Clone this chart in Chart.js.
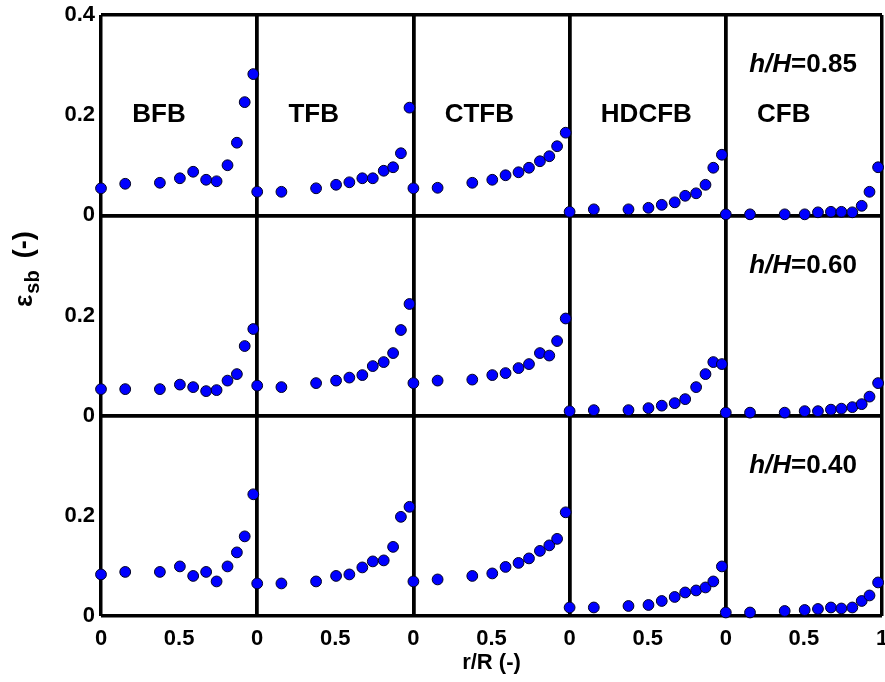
<!DOCTYPE html>
<html>
<head>
<meta charset="utf-8">
<script src="https://cdn.jsdelivr.net/npm/chart.js@4.4.1/dist/chart.umd.min.js"></script>
<style>
  html, body { margin: 0; padding: 0; background: #fff; }
</style>
</head>
<body>
<canvas id="voidage" width="885" height="682"></canvas>
<script>
// radial positions r/R (same in every panel)
const rr = [0, 0.155, 0.377, 0.505, 0.59, 0.673, 0.74, 0.81, 0.87, 0.92, 0.975];

const beds = ['BFB', 'TFB', 'CTFB', 'HDCFB', 'CFB'];
const heights = ['0.85', '0.60', '0.40'];

// h/H = 0.85
const bfb85   = [0.054, 0.063, 0.065, 0.074, 0.087, 0.071, 0.068, 0.100, 0.145, 0.226, 0.282];
const tfb85   = [0.047, 0.047, 0.054, 0.061, 0.066, 0.074, 0.074, 0.089, 0.096, 0.124, 0.215];
const ctfb85  = [0.054, 0.055, 0.065, 0.071, 0.080, 0.086, 0.095, 0.108, 0.118, 0.138, 0.165];
const hdcfb85 = [0.007, 0.012, 0.012, 0.015, 0.021, 0.026, 0.039, 0.044, 0.061, 0.095, 0.121];
const cfb85   = [0.002, 0.002, 0.002, 0.002, 0.006, 0.007, 0.007, 0.006, 0.019, 0.047, 0.096];
// h/H = 0.60
const bfb60   = [0.053, 0.053, 0.053, 0.062, 0.057, 0.049, 0.051, 0.070, 0.083, 0.139, 0.173];
const tfb60   = [0.060, 0.057, 0.065, 0.070, 0.076, 0.081, 0.099, 0.107, 0.125, 0.171, 0.223];
const ctfb60  = [0.065, 0.070, 0.072, 0.081, 0.085, 0.095, 0.103, 0.125, 0.120, 0.149, 0.194];
const hdcfb60 = [0.009, 0.011, 0.011, 0.015, 0.020, 0.025, 0.033, 0.057, 0.083, 0.107, 0.103];
const cfb60   = [0.006, 0.006, 0.006, 0.009, 0.009, 0.012, 0.014, 0.017, 0.023, 0.038, 0.065];
// h/H = 0.40
const bfb40   = [0.083, 0.088, 0.088, 0.099, 0.080, 0.088, 0.069, 0.099, 0.127, 0.159, 0.243];
const tfb40   = [0.065, 0.065, 0.069, 0.080, 0.083, 0.097, 0.109, 0.111, 0.138, 0.198, 0.218];
const ctfb40  = [0.069, 0.073, 0.080, 0.085, 0.098, 0.106, 0.115, 0.130, 0.141, 0.154, 0.207];
const hdcfb40 = [0.017, 0.017, 0.020, 0.022, 0.030, 0.038, 0.047, 0.051, 0.057, 0.069, 0.099];
const cfb40   = [0.007, 0.007, 0.010, 0.012, 0.014, 0.017, 0.015, 0.017, 0.030, 0.041, 0.067];

const rows = [
  [bfb85, tfb85, ctfb85, hdcfb85, cfb85],
  [bfb60, tfb60, ctfb60, hdcfb60, cfb60],
  [bfb40, tfb40, ctfb40, hdcfb40, cfb40]
];

const FONT = '"Liberation Sans", Arial, sans-serif';
const tickFont = { family: FONT, size: 22, weight: 'bold' };

// black frame lines only at the panel edges
function edgeColor(lo, hi) {
  return (c) => (c.tick && (Math.abs(c.tick.value - lo) < 1e-6 || Math.abs(c.tick.value - hi) < 1e-6)) ? '#000' : 'rgba(0,0,0,0)';
}

const scales = {};
beds.forEach((b, i) => {
  scales['x' + i] = {
    type: 'linear', position: 'bottom', stack: 'rR', min: 0, max: 1,
    ticks: {
      stepSize: 0.5, padding: 10, color: '#000', font: tickFont,
      autoSkip: false, maxRotation: 0, minRotation: 0,
      callback: (v) => (v === 1 && i < beds.length - 1) ? '' : String(v)
    },
    grid: { drawTicks: false, lineWidth: 3.5, color: edgeColor(0, 1) },
    border: { display: false },
    title: {
      display: i === 2, text: 'r/R (-)', color: '#000',
      font: { family: FONT, size: 22, weight: 'bold' }, padding: { top: 6, bottom: 6 }
    },
    afterFit: (s) => { s.height = 66; s.paddingLeft = 0; s.paddingRight = 0; s.paddingTop = 0; s.paddingBottom = 0; }
  };
});
heights.forEach((h, j) => {
  scales['y' + j] = {
    type: 'linear', position: 'left', stack: 'eps', weight: heights.length - j, min: 0, max: 0.4,
    ticks: {
      stepSize: 0.2, padding: 6, color: '#000', font: tickFont, autoSkip: false,
      callback: (v) => (v > 0.3 && j > 0) ? '' : String(Math.round(v * 10) / 10)
    },
    grid: { drawTicks: false, lineWidth: 3.5, color: edgeColor(0, 0.4) },
    border: { display: false },
    afterFit: (s) => { s.width = 101; s.paddingTop = 0; s.paddingBottom = 0; s.paddingLeft = 0; s.paddingRight = 0; }
  };
});

const datasets = [];
rows.forEach((row, j) => row.forEach((vals, i) => {
  datasets.push({
    label: beds[i] + ' h/H=' + heights[j],
    data: rr.map((r, k) => ({ x: r, y: vals[k] })),
    xAxisID: 'x' + i,
    yAxisID: 'y' + j,
    backgroundColor: '#0000ff',
    borderColor: '#000022',
    borderWidth: 1,
    pointRadius: 5.4,
    clip: false
  });
}));

const panelText = {
  id: 'panelText',
  afterDatasetsDraw(chart) {
    const ctx = chart.ctx;
    const s = chart.scales;
    ctx.save();
    ctx.fillStyle = '#000';
    ctx.textBaseline = 'middle';
    ctx.textAlign = 'left';
    ctx.font = 'bold 26px ' + FONT;
    beds.forEach((b, i) => {
      ctx.fillText(b, s['x' + i].getPixelForValue(0.2), s.y0.getPixelForValue(0.2));
    });
    heights.forEach((h, j) => {
      let x = s.x4.getPixelForValue(0.15);
      const y = s['y' + j].getPixelForValue(0.3);
      ctx.font = 'italic bold 26px ' + FONT;
      ctx.fillText('h/H', x, y);
      x += ctx.measureText('h/H').width;
      ctx.font = 'bold 26px ' + FONT;
      ctx.fillText('=' + h, x, y);
    });
    // y axis title: epsilon_sb (-)
    ctx.translate(32, 307);
    ctx.rotate(-Math.PI / 2);
    ctx.textBaseline = 'alphabetic';
    ctx.font = 'bold 26px ' + FONT;
    ctx.fillText('\u03b5', 0, 0);
    let tx = ctx.measureText('\u03b5').width + 1;
    ctx.font = 'bold 20px ' + FONT;
    ctx.fillText('sb', tx, 7);
    tx += ctx.measureText('sb').width + 12;
    ctx.font = 'bold 27px ' + FONT;
    ctx.fillText('(-)', tx, 0);
    ctx.restore();
  }
};

new Chart(document.getElementById('voidage'), {
  type: 'scatter',
  data: { datasets: datasets },
  options: {
    responsive: false,
    animation: false,
    devicePixelRatio: 1,
    layout: { autoPadding: false, padding: { left: 0, top: 15, right: 3, bottom: 0 } },
    scales: scales,
    plugins: { legend: { display: false }, tooltip: { enabled: false } }
  },
  plugins: [panelText]
});
</script>
</body>
</html>
